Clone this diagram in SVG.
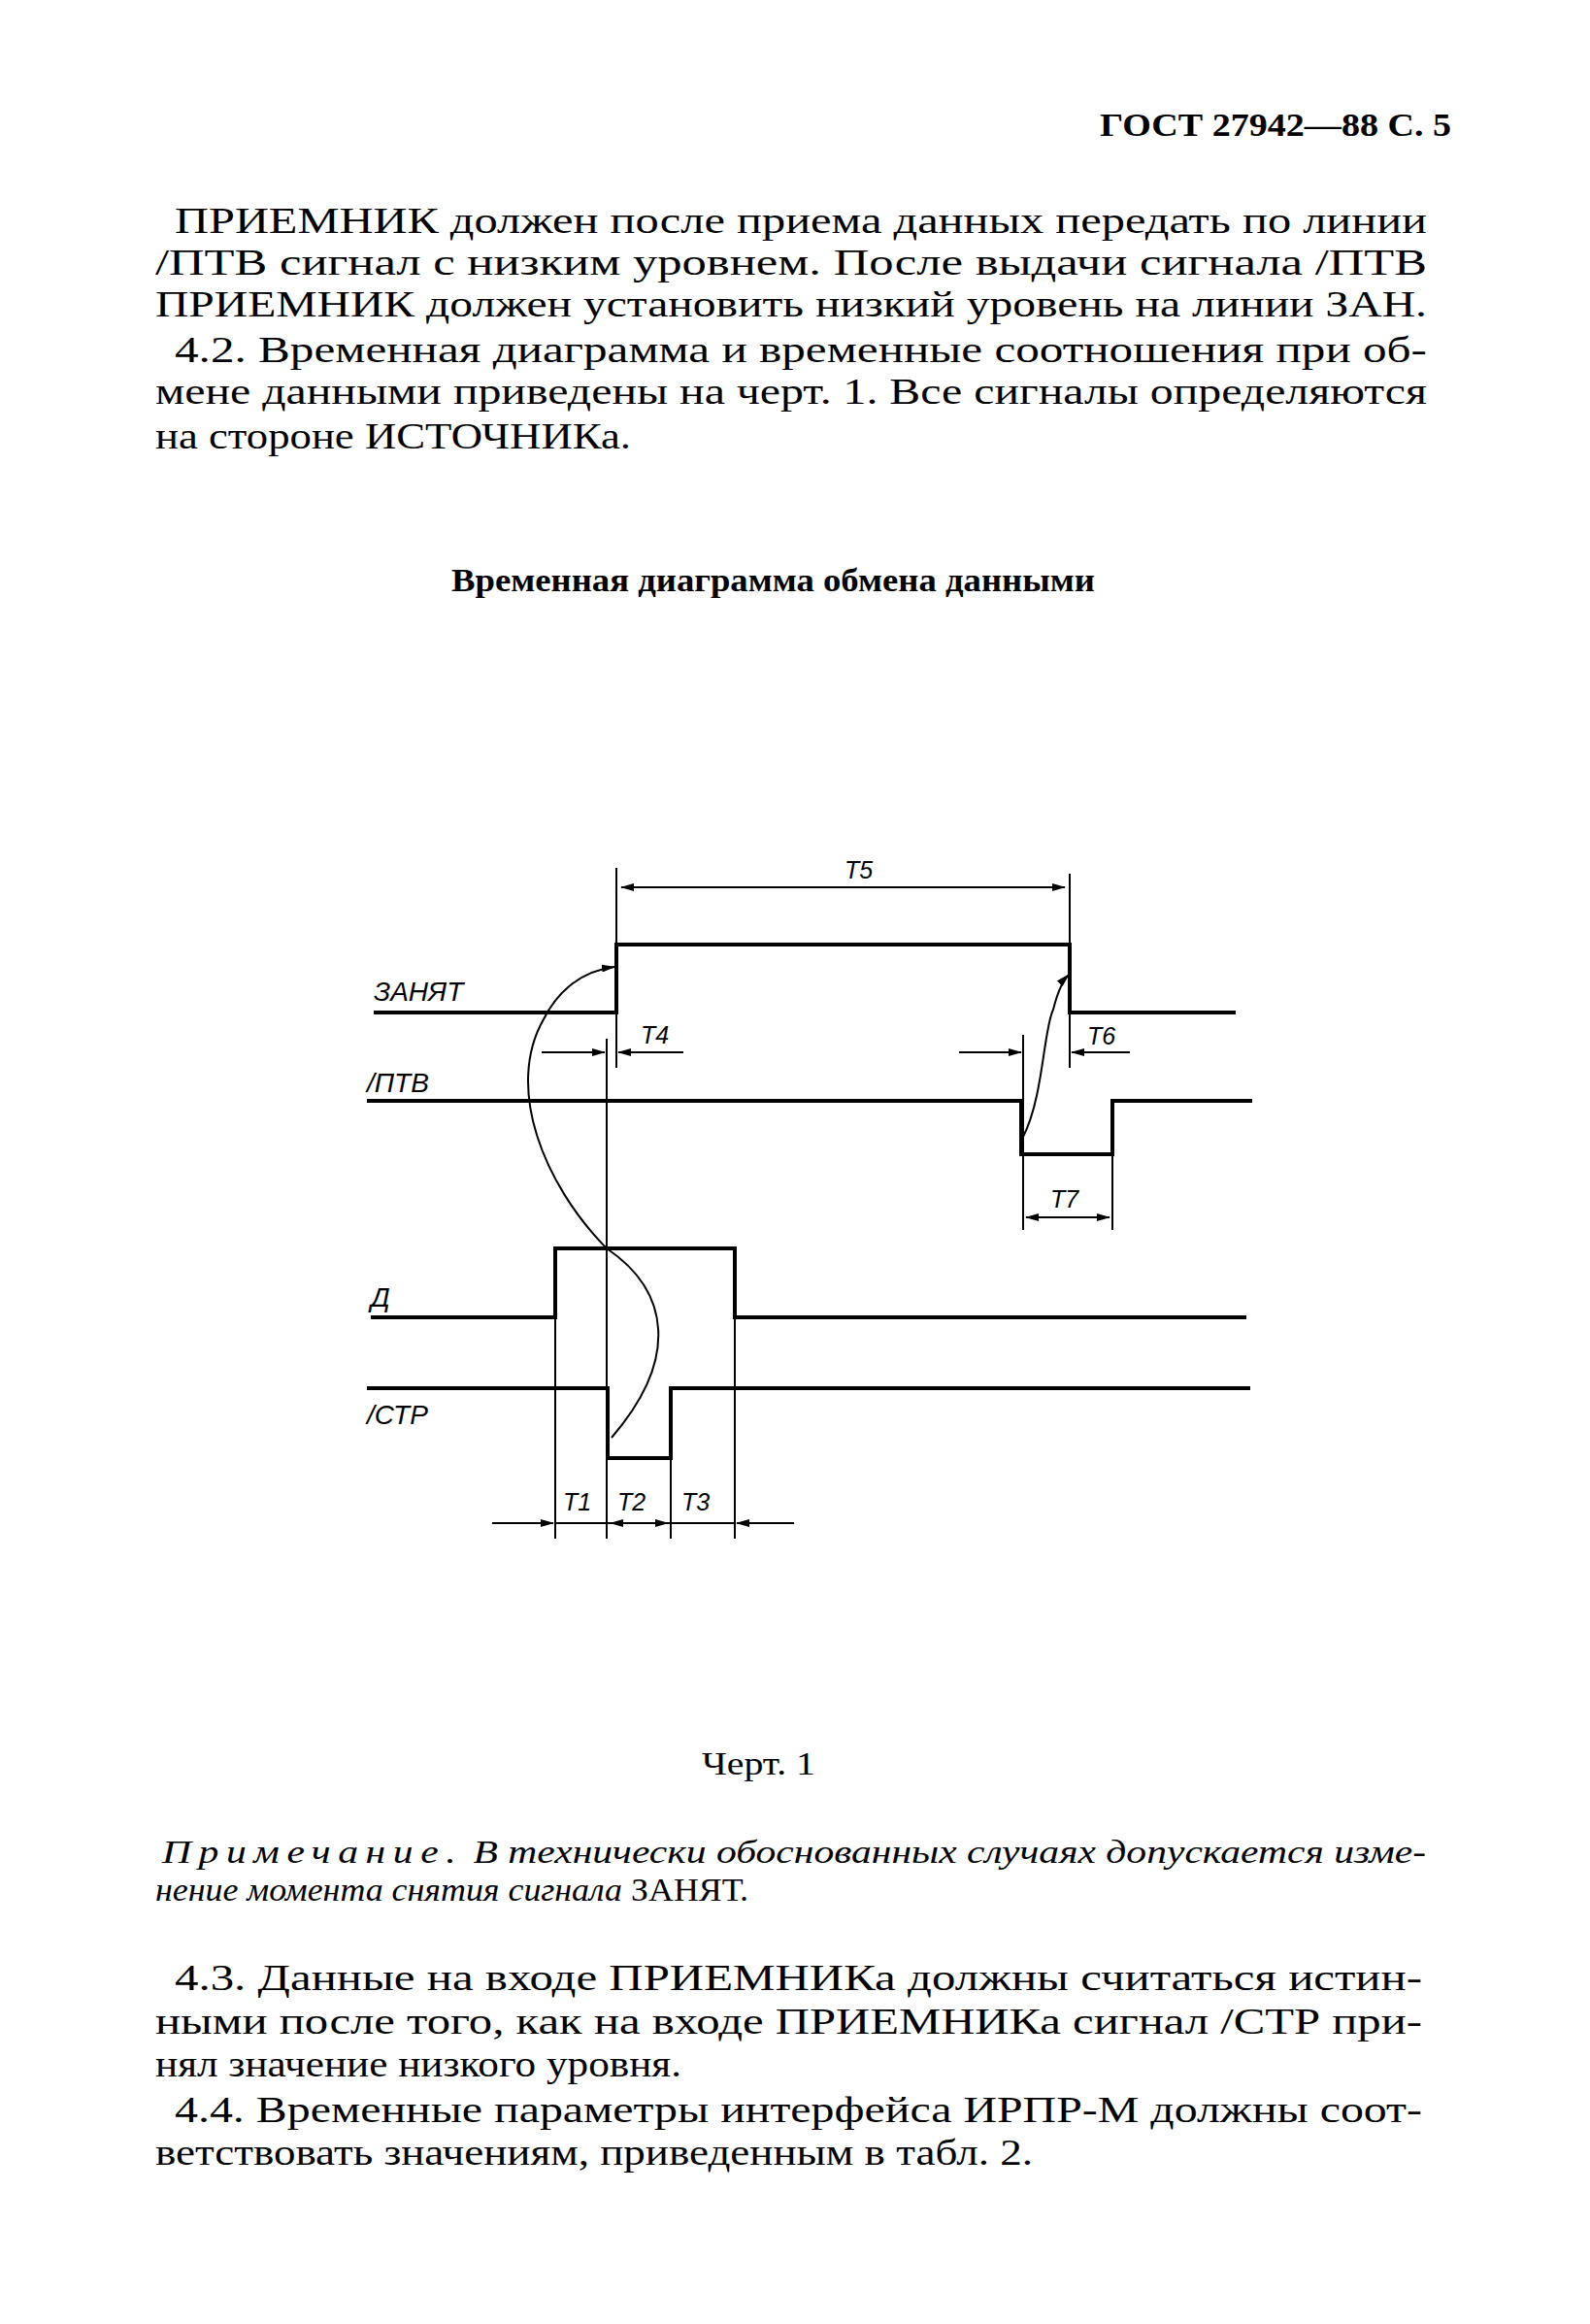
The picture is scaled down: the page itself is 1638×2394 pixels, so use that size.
<svg xmlns="http://www.w3.org/2000/svg" width="1638" height="2394" viewBox="0 0 1638 2394">
<style>
.b{font-family:"Liberation Serif",serif;font-size:37px;fill:#000}
.s{font-family:"Liberation Serif",serif;font-size:33px;fill:#000}
.lb{font-family:"Liberation Sans",sans-serif;font-style:italic;font-size:28px;fill:#000}
.t{font-family:"Liberation Sans",sans-serif;font-style:italic;font-size:25px;fill:#000}
.sig{fill:none;stroke:#000;stroke-width:4}
.dim{fill:none;stroke:#000;stroke-width:2}
.dm{fill:none;stroke:#000;stroke-width:2;marker-end:url(#ah)}
.dd{fill:none;stroke:#000;stroke-width:2;marker-start:url(#ahs);marker-end:url(#ah)}
</style>
<defs>
<marker id="ah" markerWidth="14" markerHeight="8" refX="13" refY="4" orient="auto" markerUnits="userSpaceOnUse"><path d="M0,0 L14,4 L0,8 Z"/></marker>
<marker id="ahs" markerWidth="14" markerHeight="8" refX="1" refY="4" orient="auto" markerUnits="userSpaceOnUse"><path d="M14,0 L0,4 L14,8 Z"/></marker>
</defs>
<rect width="1638" height="2394" fill="#fff"/>
<text x="1133" y="140" class="s" font-weight="bold" font-size="36" textLength="362" lengthAdjust="spacingAndGlyphs">ГОСТ 27942—88 С. 5</text>
<text class="b" x="180" y="240" textLength="1290" lengthAdjust="spacingAndGlyphs">ПРИЕМНИК должен после приема данных передать по линии</text>
<text class="b" x="160" y="283" textLength="1310" lengthAdjust="spacingAndGlyphs">/ПТВ сигнал с низким уровнем.  После  выдачи  сигнала /ПТВ</text>
<text class="b" x="160" y="326" textLength="1310" lengthAdjust="spacingAndGlyphs">ПРИЕМНИК должен установить низкий уровень на линии ЗАН.</text>
<text class="b" x="180" y="373" textLength="1290" lengthAdjust="spacingAndGlyphs">4.2. Временная диаграмма и временные соотношения  при об-</text>
<text class="b" x="160" y="416" textLength="1310" lengthAdjust="spacingAndGlyphs">мене данными приведены на черт. 1. Все сигналы  определяются</text>
<text class="b" x="160" y="462" textLength="490" lengthAdjust="spacingAndGlyphs">на стороне ИСТОЧНИКа.</text>
<text class="s" x="465" y="609" font-weight="bold" textLength="663" lengthAdjust="spacingAndGlyphs">Временная диаграмма обмена данными</text>

<g id="connectors">
<path class="dim" d="M635,894 V1100 M1102,900 V1100 M625,1070 V1585 M1054,1066 V1267 M1146,1189 V1267 M572,1286 V1585 M757,1286 V1585 M691,1502 V1585"/>
<path class="dd" d="M640,914 H1097"/>
<path class="dm" d="M558,1084 H623"/>
<path class="dm" d="M704,1084 H637"/>
<path class="dm" d="M988,1084 H1052"/>
<path class="dm" d="M1164,1084 H1104"/>
<path class="dd" d="M1057,1254 H1143"/>
<path class="dm" d="M507,1569 H570"/>
<path class="dd" d="M629,1569 H688"/>
<path class="dm" d="M818,1569 H759"/>
<path class="dim" d="M572,1569 H757"/>
<path class="dm" d="M630,1481 C700,1400 690,1330 625,1286 C560,1220 520,1120 560,1050 C575,1020 600,1000 633,996"/>
<path class="dm" d="M1054,1171 C1075,1130 1075,1060 1085,1040 C1090,1020 1095,1010 1101,1004"/>
</g>

<g id="zanyat"><path class="sig" d="M385,1043 H635 V973 H1102 V1043 H1273"/><text class="lb" x="385" y="1031">ЗАНЯТ</text></g>
<g id="ptv"><path class="sig" d="M378,1134 H1052 V1189 H1146 V1134 H1290"/><text class="lb" x="378" y="1125">/ПТВ</text></g>
<g id="d"><path class="sig" d="M382,1357 H572 V1286 H757 V1357 H1284"/><text class="lb" x="382" y="1346">Д</text></g>
<g id="str"><path class="sig" d="M378,1430 H626 V1502 H691 V1430 H1288"/><text class="lb" x="378" y="1467">/СТР</text></g>

<g id="labels">
<text class="t" x="870" y="905">Т5</text>
<text class="t" x="660" y="1075">Т4</text>
<text class="t" x="1120" y="1076">Т6</text>
<text class="t" x="1082" y="1244">Т7</text>
<text class="t" x="580" y="1556">Т1</text>
<text class="t" x="636" y="1556">Т2</text>
<text class="t" x="702" y="1556">Т3</text>
</g>

<text class="s" x="723" y="1828" textLength="117" lengthAdjust="spacingAndGlyphs">Черт. 1</text>
<text class="s" x="167" y="1919" textLength="1302" lengthAdjust="spacingAndGlyphs"><tspan font-style="italic" letter-spacing="6">Примечание.</tspan> <tspan font-style="italic">В технически обоснованных случаях допускается изме-</tspan></text>
<text class="s" x="160" y="1958" font-style="italic" textLength="611" lengthAdjust="spacingAndGlyphs">нение момента снятия сигнала <tspan font-style="normal">ЗАНЯТ.</tspan></text>
<text class="b" x="180" y="2050" textLength="1285" lengthAdjust="spacingAndGlyphs">4.3. Данные на входе ПРИЕМНИКа должны считаться истин-</text>
<text class="b" x="160" y="2095" textLength="1305" lengthAdjust="spacingAndGlyphs">ными после того, как на входе ПРИЕМНИКа сигнал /СТР при-</text>
<text class="b" x="160" y="2139" textLength="542" lengthAdjust="spacingAndGlyphs">нял значение низкого уровня.</text>
<text class="b" x="180" y="2186" textLength="1285" lengthAdjust="spacingAndGlyphs">4.4. Временные параметры интерфейса ИРПР-М должны соот-</text>
<text class="b" x="160" y="2230" textLength="904" lengthAdjust="spacingAndGlyphs">ветствовать значениям, приведенным в табл. 2.</text>
</svg>
